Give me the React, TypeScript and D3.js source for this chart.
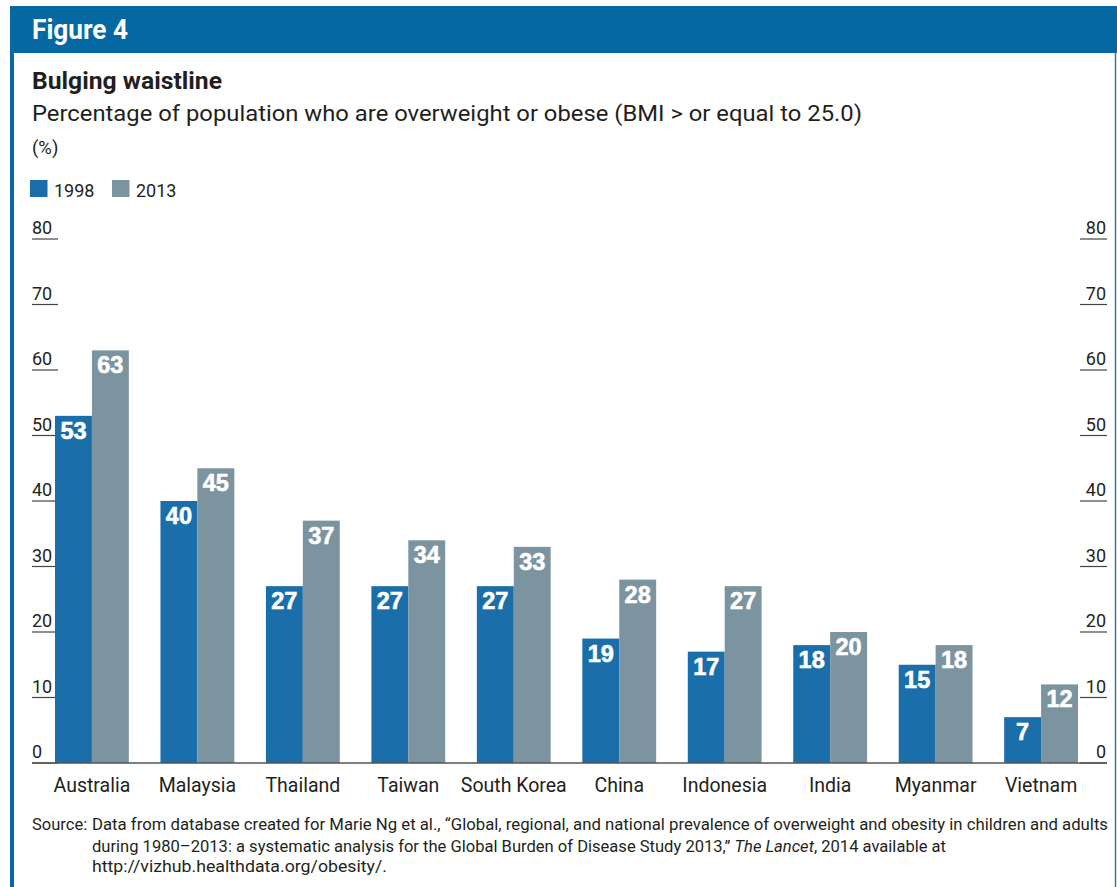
import React from "react";
import * as d3 from "d3";

const categories = ["Australia", "Malaysia", "Thailand", "Taiwan", "South Korea", "China", "Indonesia", "India", "Myanmar", "Vietnam"];
const series = ["1998", "2013"];
const values1998 = [53, 40, 27, 27, 27, 19, 17, 18, 15, 7];
const values2013 = [63, 45, 37, 34, 33, 28, 27, 20, 18, 12];
const yTicks = [0, 10, 20, 30, 40, 50, 60, 70, 80];
const colors = ["#1a6ea9", "#7c949f"];
const sourceLines = [
  "Data from database created for Marie Ng et al., \u201cGlobal, regional, and national prevalence of overweight and obesity in children and adults",
  "during 1980\u20132013: a systematic analysis for the Global Burden of Disease Study 2013,\u201d",
  "http://vizhub.healthdata.org/obesity/.",
];

const FONT = "Roboto, 'Noto Sans', sans-serif";
const HEADER = "#0468a3";
const INK = "#231f20";

export default function App() {
  const W = 1117, H = 887;
  const x = d3.scaleBand<string>().domain(categories).range([55, 1078]).paddingInner(0.3).paddingOuter(0);
  const xs = d3.scaleBand<string>().domain(series).range([0, x.bandwidth()]);
  const y = d3.scaleLinear().domain([0, 80]).range([763, 239]);
  const data = [values1998, values2013];

  return (
    <div>
      <style>{`body{margin:0}`}</style>
      <svg width={W} height={H} style={{ display: "block", fontFamily: FONT }}>
        <rect x={0} y={0} width={W} height={H} fill="#fff" />
        <rect x={10} y={6} width={W - 10} height={47} fill={HEADER} />
        <rect x={10} y={6} width={4} height={H - 6} fill={HEADER} />
        <line x1={1115.5} x2={1115.5} y1={53} y2={H} stroke="#2a7bb0" strokeWidth={1.5} />
        <text x={32} y={39} fill="#fff" fontWeight="bold" fontSize={27} textLength={96} lengthAdjust="spacingAndGlyphs">Figure 4</text>

        <text x={32} y={89} fill={INK} fontWeight="bold" fontSize={24} textLength={190} lengthAdjust="spacingAndGlyphs">Bulging waistline</text>
        <text x={32} y={121} fill={INK} fontSize={22} textLength={830} lengthAdjust="spacingAndGlyphs">Percentage of population who are overweight or obese (BMI &gt; or equal to 25.0)</text>
        <text x={32} y={154} fill={INK} fontSize={18.5}>(%)</text>

        {series.map((s, i) => (
          <g key={s} transform={`translate(${[30, 112][i]},180)`}>
            <rect width={17.5} height={17} fill={colors[i]} />
            <text x={24} y={16.5} fontSize={18} fill={INK}>{s}</text>
          </g>
        ))}

        {yTicks.map((t) => (
          <g key={t}>
            <line x1={32} x2={58} y1={y(t)} y2={y(t)} stroke="#444" strokeWidth={1.2} />
            <text x={32} y={y(t) - 5} fontSize={18} fill={INK}>{t}</text>
            <line x1={1080} x2={1107} y1={y(t)} y2={y(t)} stroke="#444" strokeWidth={1.2} />
            <text x={1106} y={y(t) - 5} fontSize={18} fill={INK} textAnchor="end">{t}</text>
          </g>
        ))}

        {categories.map((c, ci) => (
          <g key={c} transform={`translate(${x(c)},0)`}>
            {series.map((s, si) => {
              const v = data[si][ci];
              const bx = xs(s)!;
              return (
                <g key={s}>
                  <rect x={bx} y={y(v)} width={xs.bandwidth()} height={y(0) - y(v)} fill={colors[si]} />
                  <text x={bx + xs.bandwidth() / 2} y={y(v) + 23} textAnchor="middle" fill="#fff" stroke="#fff" strokeWidth={0.6} fontWeight="bold" fontSize={23.5} fontFamily="'Liberation Sans', Arial, sans-serif">{v}</text>
                </g>
              );
            })}
            <text x={x.bandwidth() / 2} y={792} textAnchor="middle" fontSize={19.5} fill={INK}>{c}</text>
          </g>
        ))}
        <line x1={32} x2={1107} y1={y(0)} y2={y(0)} stroke="#555" strokeWidth={1.5} />

        <text x={32} y={830} fontSize={16.5} fill={INK}>Source:</text>
        <text x={92} y={830} fontSize={16.5} fill={INK} textLength={1016} lengthAdjust="spacingAndGlyphs">{sourceLines[0]}</text>
        <text x={92} y={852} fontSize={16.5} fill={INK} textLength={854} lengthAdjust="spacingAndGlyphs">
          {sourceLines[1]} <tspan fontStyle="italic">The Lancet</tspan>, 2014 available at
        </text>
        <text x={92} y={872} fontSize={16.5} fill={INK} textLength={295} lengthAdjust="spacingAndGlyphs">{sourceLines[2]}</text>
      </svg>
    </div>
  );
}
